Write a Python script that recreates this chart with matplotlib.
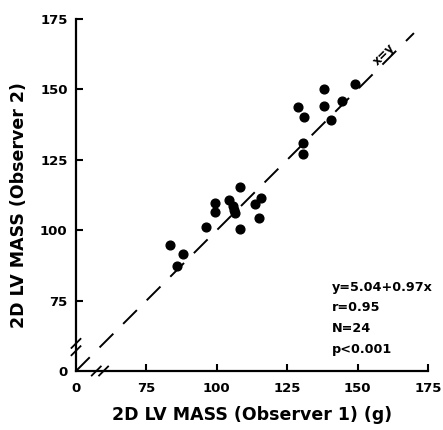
import matplotlib
matplotlib.use("Agg")
import matplotlib.pyplot as plt
import numpy as np

plt.rcParams['font.family'] = ['DejaVu Sans']
plt.rcParams['lines.scale_dashes'] = False

# Observer 1 (x) and Observer 2 (y) LV mass, grams
obs1 = [83.5, 85.8, 87.9, 96.3, 99.3, 99.3, 104.3, 105.7, 106.3, 106.0,
        108.3, 108.4, 113.4, 115.8, 115.0, 128.7, 130.8, 130.7, 130.7,
        138.0, 138.0, 140.5, 144.5, 148.9]
obs2 = [94.7, 87.2, 91.4, 101.1, 109.5, 106.3, 110.7, 108.5, 106.2, 107.0,
        115.2, 100.4, 109.2, 111.4, 104.4, 143.8, 140.2, 130.8, 127.0,
        150.2, 144.1, 139.3, 146.0, 152.0]

tick_values = [0, 75, 100, 125, 150, 175]
tick_labels = ["0", "75", "100", "125", "150", "175"]
stats_lines = ["y=5.04+0.97x", "r=0.95", "N=24", "p<0.001"]

# broken axis: value 0 is drawn one tick step (25) below 75
def pos(v):
    v = np.asarray(v, dtype=float)
    return np.where(v <= 0, 50.0, v)

fig = plt.figure(figsize=(4.43, 4.30), dpi=100)
ax = fig.add_axes([76/443, 1-371/430, (428-76)/443, (371-19)/430])
ax.set_xlim(50, 175)
ax.set_ylim(50, 175)

ax.spines['top'].set_visible(False)
ax.spines['right'].set_visible(False)
for s in ('left', 'bottom'):
    ax.spines[s].set_linewidth(1.6)

ax.set_xticks(pos(tick_values))
ax.set_xticklabels(tick_labels)
ax.set_yticks(pos(tick_values))
ax.set_yticklabels(tick_labels)
ax.tick_params(direction='in', length=5, width=1.5, labelsize=9.5)
ax.tick_params(axis='x', pad=8)
ax.tick_params(axis='y', pad=6)
for lab in ax.get_xticklabels() + ax.get_yticklabels():
    lab.set_fontweight('bold')
# hide tick marks at the origin
ax.xaxis.get_major_ticks()[0].tick1line.set_visible(False)
ax.yaxis.get_major_ticks()[0].tick1line.set_visible(False)

# identity line
ax.plot([50, 170], [50, 170], color='black', lw=1.4, dashes=(14, 10),
        solid_capstyle='butt', dash_capstyle='butt', zorder=2)
ax.text(159.5, 162.5, "x=y", rotation=45, ha='center', va='center',
        fontsize=8.5, fontweight='bold')

ax.plot(pos(obs1), pos(obs2), 'o', color='black', markersize=6.3, zorder=3)

# break marks
def brk(x0, y0, horizontal):
    for d in (-1.3, 1.3):
        if horizontal:
            cx, cy = x0 + d, y0
        else:
            cx, cy = x0, y0 + d
        ax.plot([cx - 1.6, cx + 1.6], [cy - 1.6, cy + 1.6], color='black',
                lw=1.3, clip_on=False, zorder=5)
brk(58.5, 50, True)
brk(50, 58.5, False)

tx, ty = 141.0, 79.7
for i, s in enumerate(stats_lines):
    ax.text(tx, ty - i * 7.3, s, fontsize=9.2, fontweight='bold',
            ha='left', va='center')

ax.set_xlabel("2D LV MASS (Observer 1) (g)", fontsize=12.5, fontweight='bold',
              labelpad=8)
ax.set_ylabel("2D LV MASS (Observer 2)", fontsize=12.5, fontweight='bold')
ax.yaxis.set_label_coords(-0.137, 0.472)

fig.savefig("out.png", dpi=100)
